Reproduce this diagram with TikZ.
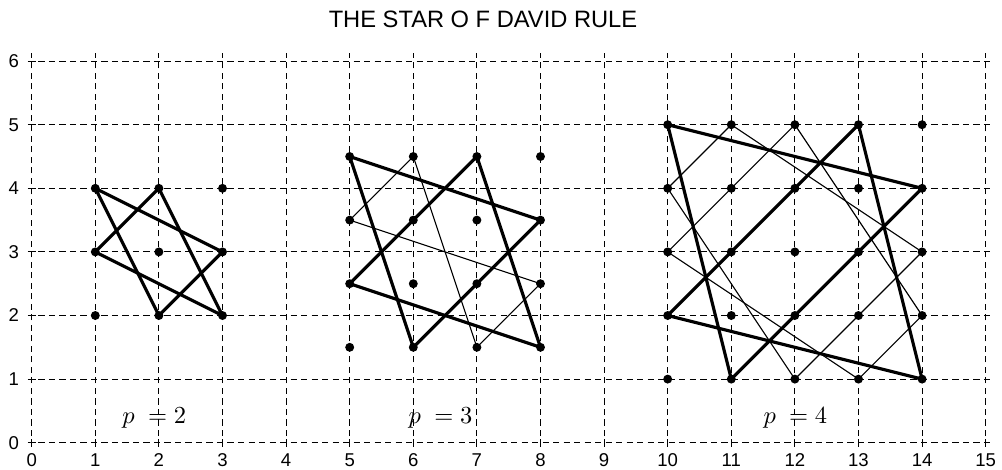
\documentclass[tikz,border=0pt]{standalone}
\usepackage{fontspec}
\setmainfont{Liberation Sans}
\begin{document}
\begin{tikzpicture}[x=1cm,y=1cm]
\tikzset{
  gridline/.style={line width=0.45pt, dash pattern=on 2.8pt off 1.9pt},
  tickmark/.style={line width=0.45pt},
  thickline/.style={line width=1.4pt, line join=round},
  thinline/.style={line width=0.5pt, line join=round},
  dot/.style={circle, fill=black, inner sep=0pt, minimum size=4pt},
  ticklab/.style={font=\fontsize{8.3}{10}\selectfont, inner sep=0pt},
  plab/.style={anchor=base west, inner sep=0pt, font=\fontsize{10.5}{12}\selectfont},
}
\useasboundingbox (-0.4984,-0.429) rectangle (15.2566,6.961);

% grid
\foreach \x in {0,...,15} \draw[gridline] (\x,-0.06) -- (\x,6.13);
\foreach \y in {0,...,6} \draw[gridline] (-0.06,\y) -- (15.13,\y);
\foreach \x in {0,...,15} \draw[tickmark] (\x,-0.06) -- (\x,0.06);
\foreach \y in {0,...,6} \draw[tickmark] (-0.06,\y) -- (0.06,\y);

% axis labels
\foreach \x in {0,...,15} \node[ticklab] (xl\x) at (\x,-0.27) {\x};
\foreach \y in {0,...,6} \node[ticklab] (yl\y) at (-0.28,\y) {\y};

% title
\node[anchor=base, inner sep=0pt, font=\fontsize{10.6}{12}\selectfont] (title) at (7.096,6.536) {THE STAR O F DAVID RULE};

% lattice points
\foreach \x in {1,2,3} \foreach \y in {2,3,4} \coordinate (A\x\y) at (\x,\y);
\foreach \x in {5,...,8} \foreach \y/\n in {1.5/1,2.5/2,3.5/3,4.5/4} \coordinate (B\x\n) at (\x,\y);
\foreach \x in {10,...,14} \foreach \y in {1,...,5} \coordinate (C\x-\y) at (\x,\y);

% p = 2
\draw[thickline] (A14) -- (A33) -- (A22) -- cycle;
\draw[thickline] (A24) -- (A13) -- (A32) -- cycle;

% p = 3
\draw[thinline] (B64) -- (B53) -- (B82) -- (B71) -- cycle;
\draw[thickline] (B54) -- (B83) -- (B61) -- cycle;
\draw[thickline] (B74) -- (B52) -- (B81) -- cycle;

% p = 4
\draw[thinline] (C11-5) -- (C10-4) -- (C12-1) -- (C14-3) -- cycle;
\draw[thinline] (C12-5) -- (C10-3) -- (C13-1) -- (C14-2) -- cycle;
\draw[thickline] (C10-5) -- (C14-4) -- (C11-1) -- cycle;
\draw[thickline] (C13-5) -- (C10-2) -- (C14-1) -- cycle;

% dots
\foreach \x in {1,2,3} \foreach \y in {2,3,4} \node[dot] (dA\x\y) at (A\x\y) {};
\foreach \x in {5,...,8} \foreach \n in {1,...,4} \node[dot] (dB\x\n) at (B\x\n) {};
\foreach \x in {10,...,14} \foreach \y in {1,...,5} \node[dot] (dC\x-\y) at (C\x-\y) {};

% labels
\node[plab] (lab2) at (1.42,0.30) {$p\ = 2$};
\node[plab] (lab3) at (5.92,0.30) {$p\ = 3$};
\node[plab] (lab4) at (11.50,0.30) {$p\ = 4$};
\end{tikzpicture}
\end{document}
